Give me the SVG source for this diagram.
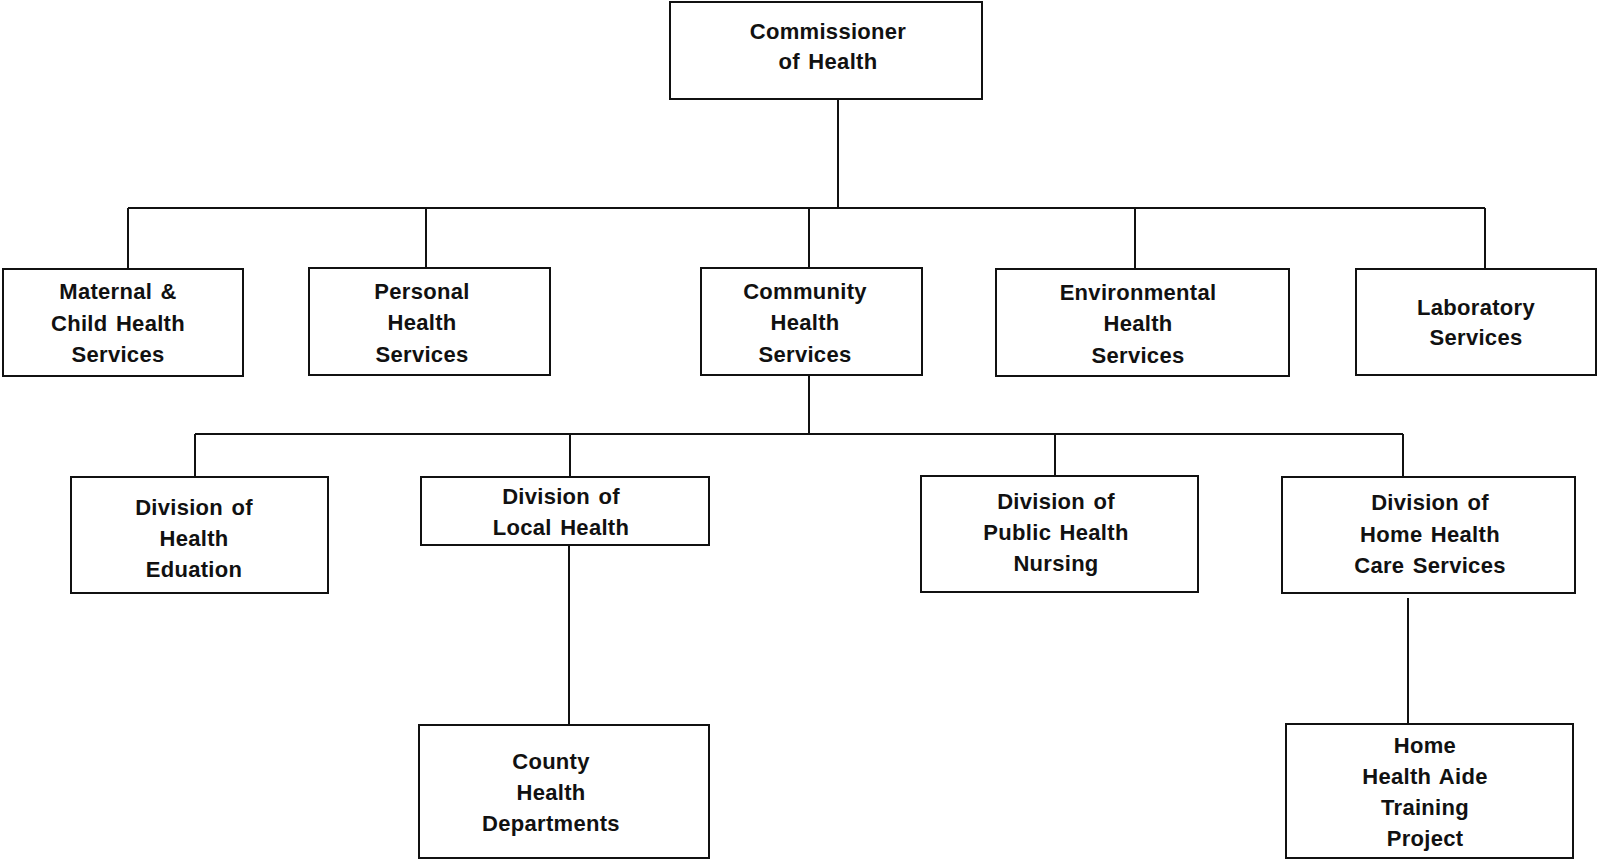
<svg xmlns="http://www.w3.org/2000/svg" width="1598" height="862" viewBox="0 0 1598 862">
<style>
.box{fill:#fff;stroke:#111;stroke-width:2}
.ln{stroke:#111;stroke-width:2;fill:none}
text{font-family:"Liberation Sans",Arial,sans-serif;font-weight:bold;font-size:22px;letter-spacing:0.3px;word-spacing:2px;fill:#111;text-anchor:middle}
</style>
<rect width="1598" height="862" fill="#fff"/>
<g id="connectors">
<path class="ln" d="M838 99V208M128 208H1485M128 208V269M426 208V268M809 208V268M1135 208V269M1485 208V269"/>
<path class="ln" d="M809 375V434M195 434H1403M195 434V477M570 434V477M1055 434V476M1403 434V477"/>
<path class="ln" d="M569 545V725M1408 598V724"/>
</g>
<g id="commissioner"><rect class="box" x="670" y="2" width="312" height="97"/><text x="828" y="39">Commissioner</text><text x="828" y="69">of Health</text></g>
<g id="maternal"><rect class="box" x="3" y="269" width="240" height="107"/><text x="118" y="299">Maternal &amp;</text><text x="118" y="331">Child Health</text><text x="118" y="362">Services</text></g>
<g id="personal"><rect class="box" x="309" y="268" width="241" height="107"/><text x="422" y="299">Personal</text><text x="422" y="330">Health</text><text x="422" y="362">Services</text></g>
<g id="community"><rect class="box" x="701" y="268" width="221" height="107"/><text x="805" y="299">Community</text><text x="805" y="330">Health</text><text x="805" y="362">Services</text></g>
<g id="environmental"><rect class="box" x="996" y="269" width="293" height="107"/><text x="1138" y="300">Environmental</text><text x="1138" y="331">Health</text><text x="1138" y="363">Services</text></g>
<g id="laboratory"><rect class="box" x="1356" y="269" width="240" height="106"/><text x="1476" y="315">Laboratory</text><text x="1476" y="345">Services</text></g>
<g id="health-education"><rect class="box" x="71" y="477" width="257" height="116"/><text x="194" y="515">Division of</text><text x="194" y="546">Health</text><text x="194" y="577">Eduation</text></g>
<g id="local-health"><rect class="box" x="421" y="477" width="288" height="68"/><text x="561" y="504">Division of</text><text x="561" y="535">Local Health</text></g>
<g id="public-health-nursing"><rect class="box" x="921" y="476" width="277" height="116"/><text x="1056" y="509">Division of</text><text x="1056" y="540">Public Health</text><text x="1056" y="571">Nursing</text></g>
<g id="home-health-care"><rect class="box" x="1282" y="477" width="293" height="116"/><text x="1430" y="510">Division of</text><text x="1430" y="542">Home Health</text><text x="1430" y="573">Care Services</text></g>
<g id="county"><rect class="box" x="419" y="725" width="290" height="133"/><text x="551" y="769">County</text><text x="551" y="800">Health</text><text x="551" y="831">Departments</text></g>
<g id="home-health-aide"><rect class="box" x="1286" y="724" width="287" height="134"/><text x="1425" y="753">Home</text><text x="1425" y="784">Health Aide</text><text x="1425" y="815">Training</text><text x="1425" y="846">Project</text></g>
</svg>
